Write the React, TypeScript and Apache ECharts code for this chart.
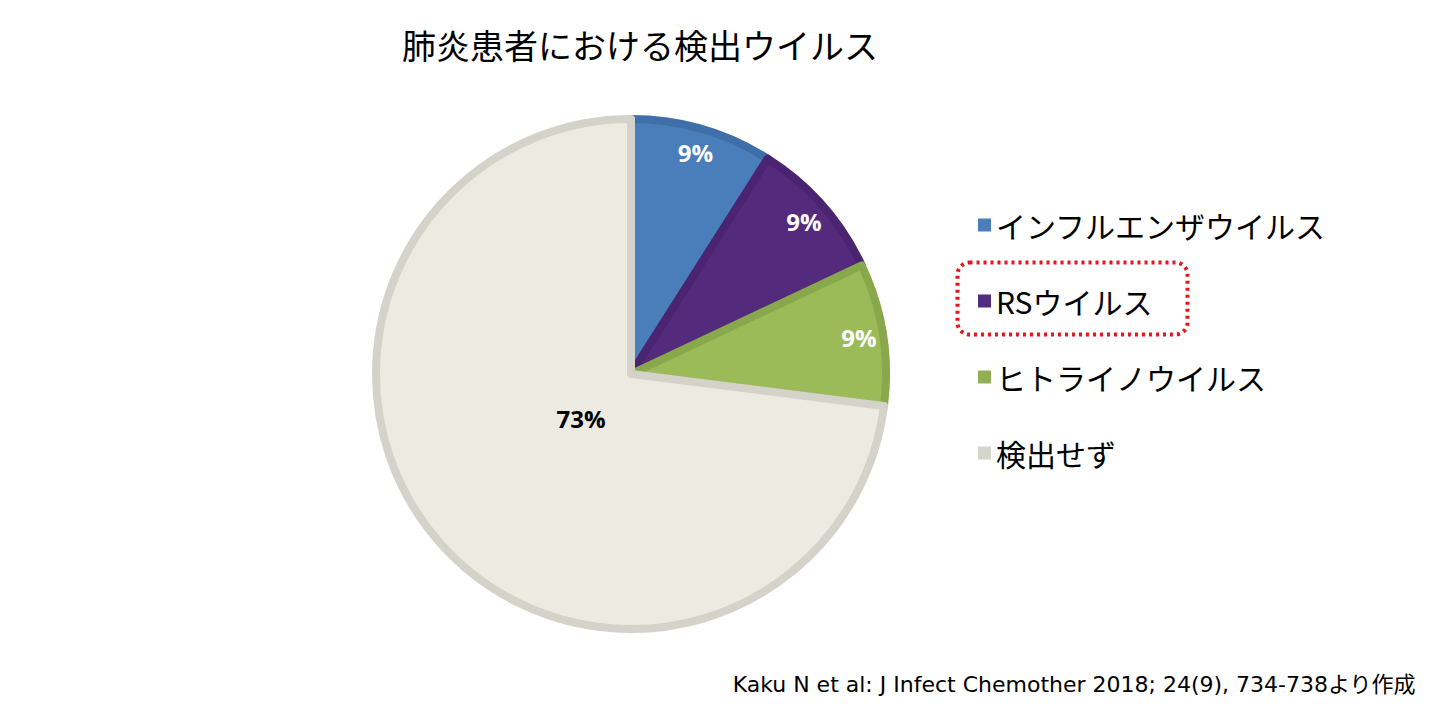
import React, { useEffect, useRef } from "react";
import * as echarts from "echarts";

// data
const categories = ["インフルエンザウイルス", "RSウイルス", "ヒトライノウイルス", "検出せず"];
const shares = [9, 9, 9, 73];
const fillColors = ["#4a7ebb", "#542a7c", "#9bbb59", "#eceae1"];
const borderColors = ["#3f6fa8", "#4a2470", "#88a84b", "#d5d3c9"];
const legendColors = ["#4a7ebb", "#4f2d7f", "#8fb055", "#d6d5cb"];
const labelColors = ["#ffffff", "#ffffff", "#ffffff", "#000000"];

const titleText = "肺炎患者における検出ウイルス";
const sourceText = "Kaku N et al: J Infect Chemother 2018; 24(9), 734-738より作成";

const JP = "'Noto Sans CJK JP', 'Noto Sans', sans-serif";

const App: React.FC = () => {
  const chartRef = useRef<HTMLDivElement>(null);

  useEffect(() => {
    if (!chartRef.current) return;
    const chart = echarts.init(chartRef.current, undefined, { renderer: "svg" });

    // push the small slices' labels outward along their mid angle
    const total = shares.reduce((a, b) => a + b, 0);
    let acc = 0;
    const offsets = shares.map((v, i) => {
      const mid = ((acc + v / 2) / total) * Math.PI * 2;
      acc += v;
      const push = i < 3 ? 100 : -64;
      return [Math.round(Math.sin(mid) * push), Math.round(-Math.cos(mid) * push)];
    });

    const option: echarts.EChartsOption = {
      animation: false,
      title: {
        text: titleText,
        left: 635,
        top: 22,
        textAlign: "center",
        textStyle: { fontFamily: JP, fontSize: 34, fontWeight: "normal", color: "#000" }
      },
      legend: {
        orient: "vertical",
        left: 973,
        top: 205,
        itemWidth: 13,
        itemHeight: 13,
        itemGap: 46,
        icon: "rect",
        selectedMode: false,
        data: categories.map((c, i) => ({ name: c, itemStyle: { color: legendColors[i], borderWidth: 0 } })),
        textStyle: { fontFamily: JP, fontSize: 30, color: "#000" }
      },
      graphic: [
        {
          type: "rect",
          left: 955,
          top: 260,
          shape: { width: 230, height: 72, r: 12 },
          style: { fill: "none", stroke: "#e8141b", lineWidth: 4, lineDash: [3, 4] }
        },
        {
          type: "text",
          right: 24,
          top: 673,
          style: {
            text: sourceText,
            fontFamily: "'DejaVu Sans', 'Noto Sans CJK JP', sans-serif",
            fontSize: 22,
            fill: "#000"
          }
        }
      ],
      series: [
        {
          type: "pie",
          center: [631, 374],
          radius: 255,
          startAngle: 90,
          clockwise: true,
          silent: true,
          data: categories.map((c, i) => ({
            name: c,
            value: shares[i],
            itemStyle: { color: fillColors[i], borderColor: borderColors[i], borderWidth: 8 },
            label: { color: labelColors[i], offset: offsets[i] }
          })),
          label: {
            show: true,
            position: "inside",
            formatter: "{c}%",
            fontFamily: "'Open Sans', sans-serif",
            fontWeight: "bold",
            fontSize: 24
          },
          labelLine: { show: false }
        }
      ]
    };

    chart.setOption(option);
    return () => chart.dispose();
  }, []);

  return (
    <div
      ref={chartRef}
      style={{ position: "fixed", left: 0, top: 0, width: 1440, height: 720, background: "#fff" }}
    />
  );
};

export default App;
